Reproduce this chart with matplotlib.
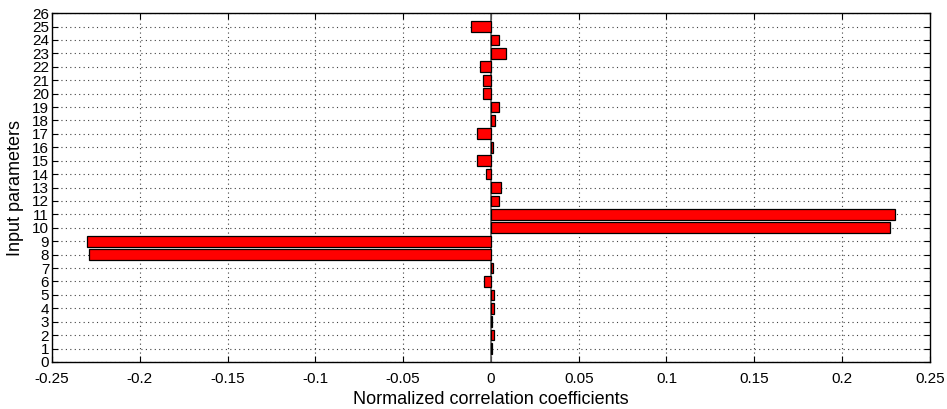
import matplotlib.pyplot as plt
import numpy as np

plt.rcParams["font.family"] = ["Liberation Sans", "DejaVu Sans"]

# input parameter index and its normalized correlation coefficient
params = list(range(1, 26))
coeffs = [
    0.0007, 0.0015, 0.0008, 0.0020, 0.0017,
    -0.0040, 0.0010, -0.2289, -0.2301, 0.2274,
    0.2299, 0.0047, 0.0055, -0.0030, -0.0077,
    0.0010, -0.0077, 0.0022, 0.0046, -0.0045,
    -0.0044, -0.0060, 0.0087, 0.0047, -0.0114,
]
xticks = np.arange(-0.25, 0.2501, 0.05)
xtick_labels = ["-0.25", "-0.2", "-0.15", "-0.1", "-0.05", "0", "0.05", "0.1", "0.15", "0.2", "0.25"]
yticks = list(range(0, 27))

fig = plt.figure(figsize=(9.47, 4.09), dpi=100)
ax = fig.add_axes([0.0549, 0.115, 0.927, 0.853])

ax.barh(params, coeffs, height=0.8, color="#ff0000", edgecolor="black", linewidth=0.9, zorder=3)
ax.axvline(0, color="#606060", linewidth=1.2, zorder=2)

ax.set_xlim(-0.25, 0.25)
ax.set_ylim(0, 26)
ax.set_xticks(xticks)
ax.set_xticklabels(xtick_labels)
ax.set_yticks(yticks)
ax.tick_params(direction="in", top=True, right=True, labelsize=11, length=4)
ax.tick_params(axis="x", pad=7)
ax.tick_params(axis="y", pad=2)
ax.grid(True, linestyle=(0, (1, 3)), color="#404040", linewidth=0.8, zorder=0)
for spine in ax.spines.values():
    spine.set_linewidth(1.0)

ax.set_xlabel("Normalized correlation coefficients", fontsize=13, labelpad=4)
ax.set_ylabel("Input parameters", fontsize=13, labelpad=6)

fig.savefig("out.png", dpi=100)
